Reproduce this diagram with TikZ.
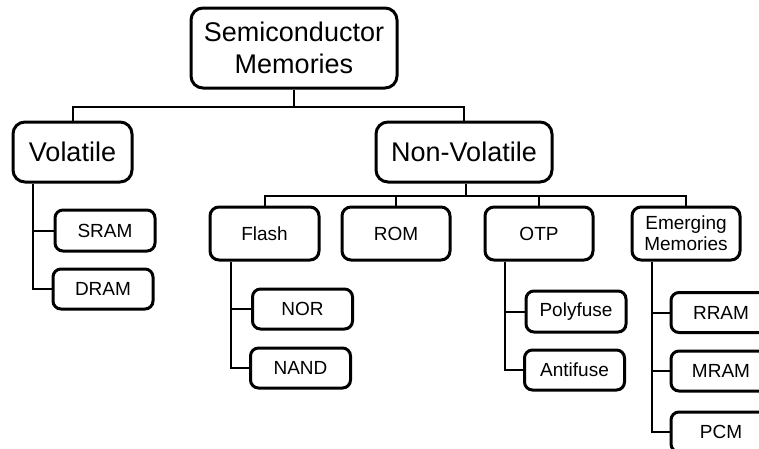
\documentclass[tikz,border=0pt]{standalone}
\usepackage{fontspec}
\setmainfont{Liberation Sans}
\begin{document}
\begin{tikzpicture}[x=1pt,y=-1pt,
  bigbox/.style={draw=black, line width=3pt, rounded corners=12pt, inner sep=0pt,
    align=center, font=\fontsize{27}{32}\selectfont},
  midbox/.style={draw=black, line width=3pt, rounded corners=9pt, inner sep=0pt,
    align=center, font=\fontsize{19}{23}\selectfont, minimum width=108pt, minimum height=53pt},
  leafbox/.style={draw=black, line width=3pt, rounded corners=8pt, inner sep=0pt,
    font=\fontsize{19}{23}\selectfont, minimum width=100pt, minimum height=40pt},
  link/.style={draw=black, line width=2pt}]
\useasboundingbox (0,0) rectangle (759,448);
\clip (0,0) rectangle (759,448);
% nodes
\node[bigbox, minimum width=206pt, minimum height=80pt] (root) at (294,48) {Semiconductor\\Memories};
\node[bigbox, minimum width=119pt, minimum height=60pt] (vol) at (72.5,152) {Volatile};
\node[bigbox, minimum width=176pt, minimum height=60pt] (nv) at (464,152) {Non-Volatile};
\node[midbox, minimum width=109pt] (flash) at (264.5,233.5) {Flash};
\node[midbox] (rom) at (396,233.5) {ROM};
\node[midbox] (otp) at (539,233.5) {OTP};
\node[midbox] (emg) at (686,233.5) {Emerging\\[-2pt]Memories};
\node[leafbox, minimum height=41pt] (sram) at (105,230.5) {SRAM};
\node[leafbox] (dram) at (103,289) {DRAM};
\node[leafbox] (nor) at (302.5,309) {NOR};
\node[leafbox] (nand) at (300.5,368) {NAND};
\node[leafbox, minimum height=41pt] (poly) at (576,311.5) {Polyfuse};
\node[leafbox] (anti) at (574.5,370) {Antifuse};
\node[leafbox] (rram) at (721,312.5) {RRAM};
\node[leafbox] (mram) at (721,371) {MRAM};
\node[leafbox] (pcm) at (721,432) {PCM};
% junction coordinates
\coordinate (rj) at (294,107);
\coordinate (nj) at (466,196);
\coordinate (vx) at (33,0);
\coordinate (fx) at (231,0);
\coordinate (ox) at (505,0);
\coordinate (ex) at (652,0);
% connectors
\draw[link] (root.south) -- (rj);
\draw[link] (vol.north) |- (rj) -| (nv.north);
\draw[link] (nv.south -| nj) -- (nj);
\draw[link] (flash.north) |- (nj) -| (emg.north);
\draw[link] (rom.north) -- (rom.north |- nj);
\draw[link] (otp.north) -- (otp.north |- nj);
\draw[link] (vol.south -| vx) |- (dram.west);
\draw[link] (vx |- sram.west) -- (sram.west);
\draw[link] (flash.south -| fx) |- (nand.west);
\draw[link] (fx |- nor.west) -- (nor.west);
\draw[link] (otp.south -| ox) |- (anti.west);
\draw[link] (ox |- poly.west) -- (poly.west);
\draw[link] (emg.south -| ex) |- (pcm.west);
\draw[link] (ex |- rram.west) -- (rram.west);
\draw[link] (ex |- mram.west) -- (mram.west);
\end{tikzpicture}
\end{document}
